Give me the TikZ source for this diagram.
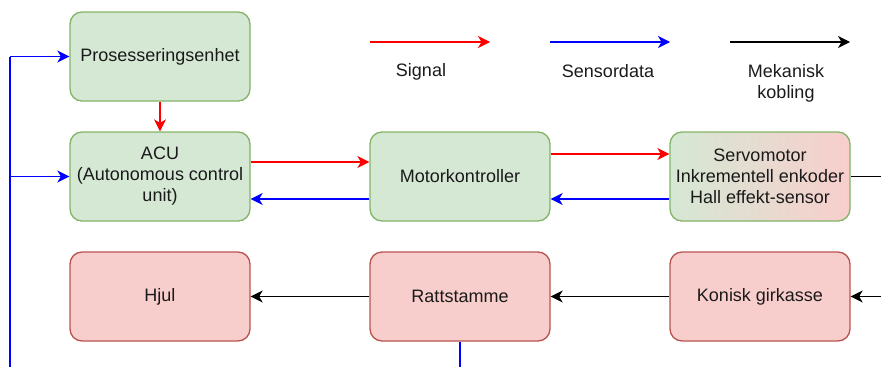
\documentclass[tikz,border=0pt]{standalone}
\usepackage{fontspec}
\setmainfont{Liberation Sans}
\usetikzlibrary{arrows.meta}
\definecolor{grfill}{HTML}{D5E8D4}
\definecolor{grline}{HTML}{82B366}
\definecolor{rdfill}{HTML}{F8CECC}
\definecolor{rdline}{HTML}{B85450}
\definecolor{sig}{HTML}{FF0000}
\definecolor{sens}{HTML}{0000FF}
\definecolor{txt}{HTML}{1A1A1A}

\begin{document}
\begin{tikzpicture}[x=1pt, y=-1pt,
                    box/.style={rectangle, rounded corners=12pt, line width=1.3pt,
                      minimum width=180pt, minimum height=89pt, align=center,
                      text=txt, font=\fontsize{18}{21}\selectfont},
                    gbox/.style={box, draw=grline, fill=grfill},
                    rbox/.style={box, draw=rdline, fill=rdfill},
                    lbl/.style={text=txt, align=center, font=\fontsize{18}{21}\selectfont},
                    con/.style={line width=1.5pt, -{Stealth[length=12pt,width=12pt,inset=3.5pt]}},
                    bare/.style={line width=1.5pt}]
      \useasboundingbox (0,0) rectangle (881,367);
      % blocks
      \node[gbox] (pros) at (160,56.5) {Prosesseringsenhet};
      \node[gbox] (acu) at (160,176.5) {ACU\\(Autonomous control\\unit)};
      \node[gbox] (motor) at (460,176.5) {Motorkontroller};
      \node[box, draw=grline, left color=grfill, right color=rdfill] (servo) at (760,176.5)
        {Servomotor\\Inkrementell enkoder\\Hall effekt-sensor};
      \node[rbox] (hjul) at (160,296.5) {Hjul};
      \node[rbox] (ratt) at (460,296.5) {Rattstamme};
      \node[rbox] (girkasse) at (760,296.5) {Konisk girkasse};
      % legend
      \foreach \c/\x [count=\i] in {sig/370, sens/550, black/730}{
        \coordinate (l\i a) at (\x,42);
        \coordinate (l\i b) at (\x+120,42);
        \draw[con, \c] (l\i a) -- (l\i b);
      }
      \node[lbl] (lsig) at (421,72) {Signal};
      \node[lbl] (lsens) at (608,71) {Sensordata};
      \node[lbl] (lmek) at (786,83) {Mekanisk\\kobling};
      % signals
      \draw[con, sig] (pros) -- (acu);
      \draw[con, sig] (acu.east |- 0,162) -- (motor.west |- 0,162);
      \draw[con, sig] (motor.east |- 0,154) -- (servo.west |- 0,154);
      % sensor data
      \draw[con, sens] (servo.west |- 0,199) -- (motor.east |- 0,199);
      \draw[con, sens] (motor.west |- 0,199) -- (acu.east |- 0,199);
      \coordinate (bus) at (10,367);
      \draw[bare, sens] (bus) -- (10,56.5);
      \draw[con, sens] (10,56.5) -- (pros.west);
      \draw[con, sens] (10,176.5) -- (acu.west);
      \coordinate (rattout) at (460,367);
      \draw[bare, sens] (ratt.south) -- (rattout);
      % mechanical
      \coordinate (servoout) at (881,176.5);
      \coordinate (girin) at (881,296.5);
      \draw[bare] (servo.east) -- (servoout);
      \draw[con] (girin) -- (girkasse.east);
      \draw[con] (girkasse) -- (ratt);
      \draw[con] (ratt) -- (hjul);
    \end{tikzpicture}
\end{document}
